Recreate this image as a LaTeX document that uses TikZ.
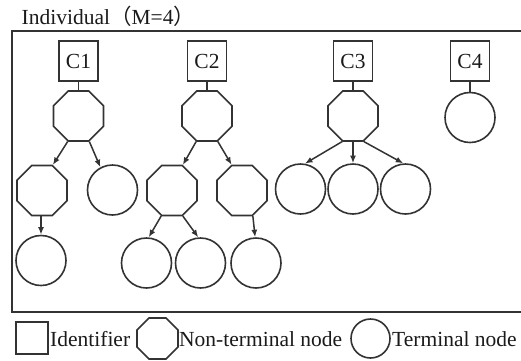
\documentclass[tikz,border=0pt]{standalone}
\usepackage{fontspec}
\setmainfont{Liberation Serif}
\newfontfamily\cjk{Noto Sans CJK SC}
\usetikzlibrary{shapes.geometric,arrows.meta}
\definecolor{ink}{HTML}{333333}
\definecolor{txt}{HTML}{1A1A1A}
\tikzset{
  base/.style={draw=ink, line width=1.6pt, inner sep=0pt},
  idbox/.style={base, rectangle, minimum width=39pt, minimum height=40pt},
  octa/.style={base, regular polygon, regular polygon sides=8, minimum size=54.1pt},
  term/.style={base, circle, minimum size=50pt},
  lbl/.style={inner sep=0pt, anchor=base west},
  link/.style={draw=ink, line width=1.5pt},
  arr/.style={link, -{Latex[length=7.5pt,width=6pt]}}
}
\begin{document}
\begin{tikzpicture}[x=1pt,y=-1pt,font=\fontsize{21.5}{24}\selectfont, text=txt]
\clip (0,0) rectangle (521,360);
\fill[white] (0,0) rectangle (521,360);
% title and frame
\node[lbl] (title) at (21.5,24) {Individual{\cjk （}M=4{\cjk ）}};
\draw[ink, line width=1.7pt] (530,31) -- (12,31) -- (12,312) -- (530,312);
% identifiers
\node[idbox] (c1) at (78.5,61) {C1};
\node[idbox] (c2) at (207,61) {C2};
\node[idbox] (c3) at (353,61) {C3};
\node[idbox] (c4) at (470,61) {C4};
% first level
\node[octa] (p1) at (78.5,116) {};
\node[octa] (p2) at (207,116) {};
\node[octa] (p3) at (353,116) {};
\node[term] (t4) at (470,117.5) {};
% second level
\node[octa] (o11) at (42,190.5) {};
\node[term] (t12) at (112.5,190) {};
\node[octa] (o21) at (172,190.5) {};
\node[octa] (o22) at (242,190.5) {};
\node[term] (t31) at (300.5,189) {};
\node[term] (t32) at (353,189) {};
\node[term] (t33) at (405.5,189) {};
% third level
\node[term] (t13) at (41,260.5) {};
\node[term] (t21) at (146.5,263) {};
\node[term] (t22) at (200.5,263) {};
\node[term] (t23) at (256,263) {};
% identifier links
\draw[link] (c1.south) -- (p1.north);
\draw[link] (c2.south) -- (p2.north);
\draw[link] (c3.south) -- (p3.north);
\draw[link] (c4.south) -- (t4.north);
% arrows
\draw[arr] (p1.247.5) -- (o11.67.5);
\draw[arr] (p1.-67.5) -- (t12.118);
\draw[arr] (t13.north |- o11.south) -- (t13.north);
\draw[arr] (p2.247.5) -- (o21.67.5);
\draw[arr] (p2.-67.5) -- (o22.112.5);
\draw[arr] (o21.247.5) -- (t21.85);
\draw[arr] (o21.-67.5) -- (t22.95);
\draw[arr] (o22.-67.5) -- (t23.92);
\draw[arr] (p3.247.5) -- (t31.80);
\draw[arr] (p3.south) -- (t32.north);
\draw[arr] (p3.-67.5) -- (t33.95);
% legend
\node[base, rectangle, minimum width=32pt, minimum height=32pt] (lsq) at (32,338) {};
\node[lbl] (lsqt) at (50,346.7) {Identifier};
\node[base, regular polygon, regular polygon sides=8, minimum size=44.4pt] (loc) at (157.5,338.5) {};
\node[lbl] (loct) at (179,346.7) {Non-terminal node};
\node[base, circle, minimum size=39pt] (lci) at (370.5,338.5) {};
\node[lbl] (lcit) at (392,346.7) {Terminal node};
\end{tikzpicture}
\end{document}
